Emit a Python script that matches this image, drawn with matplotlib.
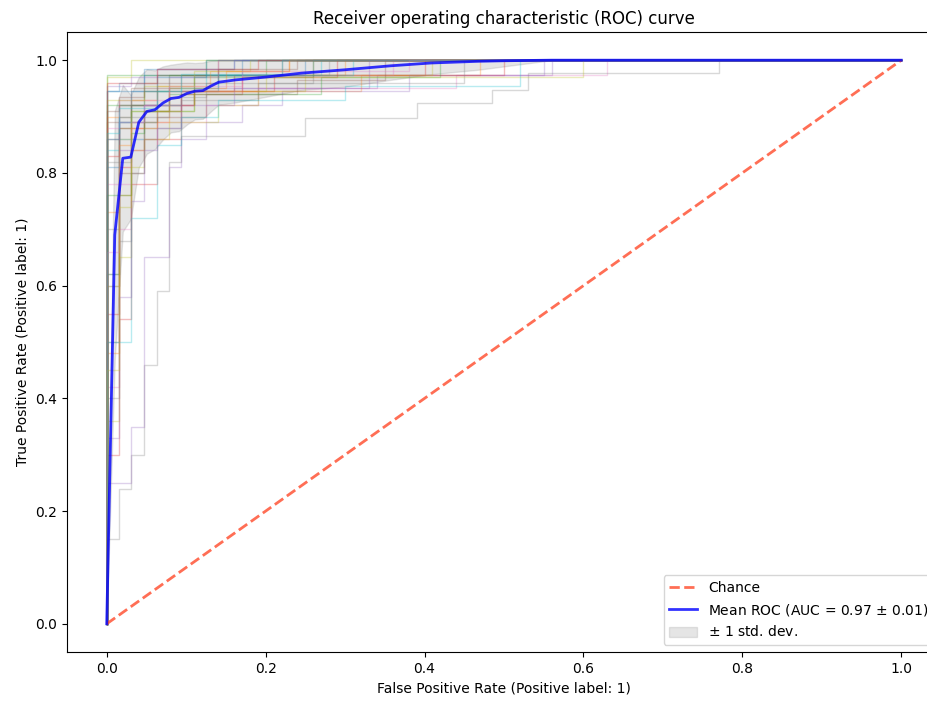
import numpy as np
import matplotlib
matplotlib.use('Agg')
import matplotlib.pyplot as plt


# per-fold ROC corner points (fpr, tpr)
fold_fpr = [
    [0, 0, 0.047, 0.25, 1],
    [0, 0, 0.016, 0.031, 0.078, 0.19, 0.30, 1],
    [0, 0, 0.125, 1],
    [0, 0, 0.016, 0.031, 0.063, 0.094, 0.16, 0.40, 1],
    [0, 0, 0.016, 0.047, 0.11, 0.34, 0.56, 1],
    [0, 0, 0.031, 0.094, 0.22, 1],
    [0, 0, 0.016, 0.031, 0.063, 0.125, 0.19, 0.44, 0.63, 1],
    [0, 0, 0.016, 0.031, 0.047, 0.063, 0.078, 0.094, 0.25, 0.39, 0.485, 0.53, 0.77, 1],
    [0, 0, 0.031, 1],
    [0, 0, 0.016, 0.047, 0.078, 0.14, 0.27, 1],
    [0, 0, 0.016, 0.031, 0.063, 0.14, 0.17, 1],
    [0, 0, 0.016, 0.031, 0.047, 0.078, 0.11, 0.32, 0.47, 1],
    [0, 0, 0.047, 0.078, 0.20, 1],
    [0, 0, 0.016, 0.031, 0.063, 0.094, 0.11, 0.21, 0.50, 1],
    [0, 0, 0.031, 0.047, 0.078, 0.094, 0.125, 0.17, 0.22, 0.38, 0.55, 1],
    [0, 0, 0.016, 0.063, 0.14, 1],
    [0, 0, 0.031, 0.047, 0.094, 0.17, 0.36, 1],
    [0, 0, 0.016, 0.047, 0.11, 0.28, 1],
    [0, 0, 0.016, 0.031, 0.047, 0.078, 0.14, 0.19, 0.25, 0.41, 1],
    [0, 0, 0.016, 0.063, 0.094, 0.125, 0.31, 1],
    [0, 0, 0.016, 0.047, 0.16, 1],
    [0, 0, 0.031, 0.063, 0.13, 0.23, 1],
    [0, 0, 0.016, 0.031, 0.078, 0.11, 0.26, 1],
    [0, 0, 0.016, 0.047, 0.094, 0.17, 0.29, 1],
    [0, 0, 0.031, 0.063, 0.16, 1],
    [0, 0, 0.016, 0.047, 0.063, 0.125, 0.24, 0.35, 1],
    [0, 0, 0.016, 0.078, 0.14, 1],
    [0, 0, 0.016, 0.031, 0.047, 0.094, 0.19, 0.45, 1],
    [0, 0, 0.047, 0.11, 0.18, 1],
    [0, 0, 0.031, 0.063, 0.094, 0.14, 0.30, 0.52, 1],
    [0, 0, 0.016, 0.031, 0.063, 0.125, 1],
    [0, 0, 0.016, 0.031, 0.063, 0.078, 0.15, 0.23, 1],
    [0, 0, 0.031, 0.047, 0.11, 0.27, 0.42, 1],
    [0, 0, 0.063, 0.19, 1],
    [0, 0, 0.016, 0.031, 0.047, 0.063, 0.094, 0.16, 0.33, 1],
    [0, 0, 0.016, 0.047, 0.14, 0.24, 1],
    [0, 0, 0.016, 0.047, 0.078, 0.17, 0.38, 1],
    [0, 0, 0.031, 0.078, 0.125, 0.26, 1],
    [0, 0, 0.016, 0.031, 0.11, 0.20, 0.60, 1],
    [0, 0, 0.016, 0.063, 0.094, 0.22, 1],
]
fold_tpr = [
    [0, 0.946, 0.973, 1, 1],
    [0, 0.73, 0.86, 0.92, 0.946, 0.973, 1, 1],
    [0, 0.973, 1, 1],
    [0, 0.55, 0.81, 0.89, 0.92, 0.946, 0.973, 1, 1],
    [0, 0.62, 0.84, 0.92, 0.95, 0.973, 1, 1],
    [0, 0.89, 0.95, 0.973, 1, 1],
    [0, 0.42, 0.70, 0.86, 0.89, 0.92, 0.95, 0.973, 1, 1],
    [0, 0.15, 0.24, 0.30, 0.46, 0.59, 0.82, 0.865, 0.897, 0.924, 0.947, 0.977, 1, 1],
    [0, 0.97, 1, 1],
    [0, 0.60, 0.86, 0.92, 0.95, 0.973, 1, 1],
    [0, 0.81, 0.89, 0.92, 0.946, 0.973, 1, 1],
    [0, 0.48, 0.76, 0.84, 0.89, 0.92, 0.946, 0.973, 1, 1],
    [0, 0.92, 0.946, 0.973, 1, 1],
    [0, 0.30, 0.54, 0.78, 0.86, 0.92, 0.946, 0.973, 1, 1],
    [0, 0.25, 0.35, 0.65, 0.81, 0.86, 0.89, 0.92, 0.946, 0.973, 1, 1],
    [0, 0.86, 0.92, 0.973, 1, 1],
    [0, 0.78, 0.89, 0.92, 0.946, 0.973, 1, 1],
    [0, 0.70, 0.92, 0.946, 0.973, 1, 1],
    [0, 0.36, 0.65, 0.81, 0.86, 0.89, 0.92, 0.946, 0.973, 1, 1],
    [0, 0.84, 0.89, 0.92, 0.95, 0.973, 1, 1],
    [0, 0.946, 0.96, 0.985, 1, 1],
    [0, 0.90, 0.93, 0.955, 0.98, 1, 1],
    [0, 0.62, 0.88, 0.91, 0.94, 0.97, 1, 1],
    [0, 0.83, 0.88, 0.91, 0.94, 0.97, 1, 1],
    [0, 0.955, 0.97, 0.985, 1, 1],
    [0, 0.50, 0.80, 0.86, 0.90, 0.94, 0.965, 1, 1],
    [0, 0.88, 0.93, 0.97, 1, 1],
    [0, 0.40, 0.68, 0.80, 0.88, 0.93, 0.96, 1, 1],
    [0, 0.93, 0.955, 0.98, 1, 1],
    [0, 0.50, 0.72, 0.85, 0.90, 0.93, 0.955, 1, 1],
    [0, 0.86, 0.90, 0.945, 0.97, 1, 1],
    [0, 0.60, 0.85, 0.88, 0.91, 0.95, 0.98, 1, 1],
    [0, 0.76, 0.87, 0.91, 0.94, 0.97, 1, 1],
    [0, 0.96, 0.985, 1, 1],
    [0, 0.33, 0.58, 0.75, 0.84, 0.88, 0.92, 0.95, 1, 1],
    [0, 0.91, 0.935, 0.96, 0.985, 1, 1],
    [0, 0.66, 0.89, 0.92, 0.955, 0.98, 1, 1],
    [0, 0.82, 0.90, 0.935, 0.96, 1, 1],
    [0, 0.45, 0.74, 0.91, 0.945, 0.97, 1, 1],
    [0, 0.87, 0.915, 0.945, 0.975, 1, 1],
]

mean_fpr = [0, 0.0101, 0.0202, 0.0303, 0.0404, 0.0505, 0.0606, 0.0707, 0.0808,
            0.0909, 0.101, 0.111, 0.121, 0.131, 0.141, 0.152, 0.162, 0.2,
            0.245, 0.3, 0.357, 0.408, 0.467, 0.5, 0.56, 1.0]
mean_tpr = [0, 0.69, 0.826, 0.828, 0.89, 0.909, 0.912, 0.924, 0.932,
            0.934, 0.941, 0.945, 0.946, 0.954, 0.961, 0.963, 0.965, 0.970,
            0.977, 0.983, 0.990, 0.995, 0.998, 0.999, 1.0, 1.0]
std_tpr = [0, 0.22, 0.13, 0.11, 0.08, 0.075, 0.07, 0.065, 0.06,
           0.06, 0.055, 0.05, 0.05, 0.045, 0.04, 0.04, 0.04, 0.035,
           0.03, 0.03, 0.025, 0.02, 0.015, 0.01, 0, 0]
mean_auc = 0.97
std_auc = 0.01

fig = plt.figure(figsize=(9.28, 7.02), dpi=100)
ax = fig.add_axes([67 / 928, 50 / 702, 874 / 928, 620 / 702])

for fpr, tpr in zip(fold_fpr, fold_tpr):
    ax.plot(fpr, tpr, drawstyle='steps-post', lw=1, alpha=0.3)

ax.plot([0, 1], [0, 1], linestyle='--', lw=2, color='#ff4a2a', label='Chance', alpha=.8)

mean_tpr = np.array(mean_tpr)
std_tpr = np.array(std_tpr)
ax.plot(mean_fpr, mean_tpr, color='b',
        label=r'Mean ROC (AUC = %0.2f $\pm$ %0.2f)' % (mean_auc, std_auc),
        lw=2, alpha=.8)

tprs_upper = np.minimum(mean_tpr + std_tpr, 1)
tprs_lower = np.maximum(mean_tpr - std_tpr, 0)
ax.fill_between(mean_fpr, tprs_lower, tprs_upper, color='grey', alpha=.2,
                label=r'$\pm$ 1 std. dev.')

ax.set(xlim=[-0.05, 1.05], ylim=[-0.05, 1.05],
       title='Receiver operating characteristic (ROC) curve')
ax.set_xlabel('False Positive Rate (Positive label: 1)')
ax.set_ylabel('True Positive Rate (Positive label: 1)')
ax.legend(loc='lower right')

fig.savefig('out.png', dpi=100)
